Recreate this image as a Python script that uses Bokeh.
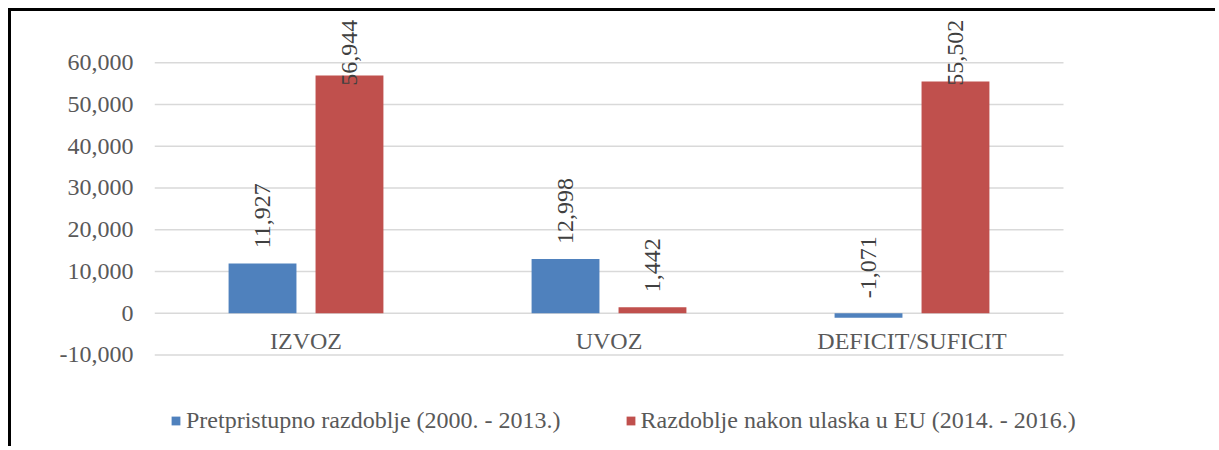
from math import pi
from bokeh.plotting import figure
from bokeh.models import (ColumnDataSource, Range1d, FixedTicker,
                          NumeralTickFormatter, Legend, LegendItem)
from bokeh.transform import dodge
from bokeh.core.properties import value
from bokeh.embed import file_html
from bokeh.resources import INLINE

categories = ["IZVOZ", "UVOZ", "DEFICIT/SUFICIT"]
pre_accession = [11927, 12998, -1071]
post_accession = [56944, 1442, 55502]
series_names = ["Pretpristupno razdoblje (2000. - 2013.)",
                "Razdoblje nakon ulaska u EU (2014. - 2016.)"]
y_ticks = [-10000, 0, 10000, 20000, 30000, 40000, 50000, 60000]

BLUE = "#4F81BD"
RED = "#C0504D"
FONT = "Liberation Serif"

def label_pos(vals, pad=3600, cap=54500):
    return [min(max(v, 0) + pad, cap) for v in vals]

n = len(categories)
src = ColumnDataSource(dict(
    xc=[i + 0.5 for i in range(n)],
    cat=categories,
    pre=pre_accession,
    post=post_accession,
    pre_txt=[f"{v:,}" for v in pre_accession],
    post_txt=[f"{v:,}" for v in post_accession],
    pre_y=label_pos(pre_accession),
    post_y=label_pos(post_accession),
    zero=[0] * n,
))
grid_src = ColumnDataSource(dict(y=y_ticks, x0=[0] * len(y_ticks), x1=[n] * len(y_ticks)))

W, H = 1207, 438
left = 143
unit_px = 303.0
px_per_val = 41.75 / 10000
zero_px = 301.7
p = figure(x_range=Range1d(0, (W - left) / unit_px),
           y_range=Range1d(-(H - zero_px) / px_per_val, zero_px / px_per_val),
           width=W, height=H, output_backend="svg", toolbar_location=None,
           title=None, min_border_left=left, min_border_right=0,
           min_border_top=0, min_border_bottom=0)
p.styles = {"border-top": "3px solid black", "border-left": "3px solid black",
            "margin-top": "8px", "margin-left": "8px"}
p.outline_line_color = None
p.background_fill_color = "white"
p.border_fill_color = "white"

# horizontal gridlines limited to the category area
p.segment(x0="x0", x1="x1", y0="y", y1="y", source=grid_src,
          line_color="#d9d9d9", line_width=1.5)

off = 0.1435
w = 0.224
r1 = p.vbar(x=dodge("xc", -off), top="pre", width=w,
            source=src, fill_color=BLUE, line_color=None)
r2 = p.vbar(x=dodge("xc", off), top="post", width=w,
            source=src, fill_color=RED, line_color=None)

for col_x, col_y, col_t in ((-off, "pre_y", "pre_txt"), (off, "post_y", "post_txt")):
    p.text(x=dodge("xc", col_x), y=col_y, text=col_t, source=src,
           angle=pi / 2, text_align="left", text_baseline="middle",
           text_font=value(FONT), text_font_size="24px", text_color="#404040")

p.text(x="xc", y="zero", text="cat", source=src, y_offset=28,
       text_align="center", text_baseline="middle",
       text_font=value(FONT), text_font_size="24px", text_color="#595959")

p.xaxis.visible = False
p.xgrid.visible = False
p.ygrid.visible = False
yax = p.yaxis[0]
yax.ticker = FixedTicker(ticks=y_ticks)
yax.formatter = NumeralTickFormatter(format="0,0")
yax.axis_line_color = None
yax.major_tick_line_color = None
yax.minor_tick_line_color = None
yax.major_tick_in = 0
yax.major_tick_out = 0
yax.major_label_standoff = 21
yax.major_label_text_font = FONT
yax.major_label_text_font_size = "24px"
yax.major_label_text_color = "#595959"

legend = Legend(items=[LegendItem(label=series_names[0], renderers=[r1]),
                       LegendItem(label=series_names[1], renderers=[r2])],
                orientation="horizontal", location=(16, 15),
                glyph_width=11, glyph_height=11, label_standoff=5, spacing=64,
                padding=0, margin=0, border_line_color=None,
                background_fill_alpha=0,
                label_text_font=FONT, label_text_font_size="24px",
                label_text_color="#595959")
p.add_layout(legend, "center")

open("out.html", "w").write(file_html(p, INLINE))
